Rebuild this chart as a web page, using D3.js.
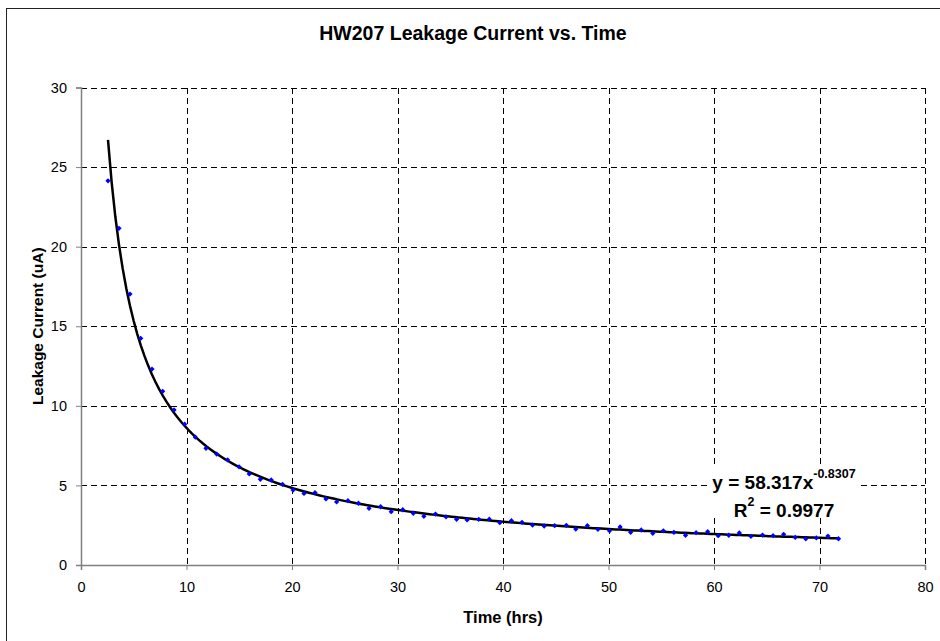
<!DOCTYPE html>
<html>
<head>
<meta charset="utf-8">
<script src="https://cdn.jsdelivr.net/npm/d3@7"></script>
<style>
  html, body { margin: 0; padding: 0; background: #fff; }
  svg { display: block; font-family: "Liberation Sans", Arial, sans-serif; }
</style>
</head>
<body>
<div id="chart"></div>
<script>
// readings
const hours = [
  2.56, 3.60, 4.64, 5.66, 6.73, 7.74, 8.82, 9.83, 10.84, 11.85, 12.86, 13.90,
  14.98, 15.95, 17.0, 18.03, 19.1, 20.1,
  21.14, 22.18, 23.22, 24.23, 25.3, 26.3, 27.3, 28.4, 29.4, 30.5, 31.5, 32.5, 33.6, 34.6, 35.6, 36.6, 37.7, 38.7,
  39.7, 40.8, 41.8, 42.8, 43.9, 44.9, 46.0, 46.9, 48.0, 49.0, 50.1, 51.1, 52.1, 53.1, 54.2, 55.2, 56.2, 57.3, 58.3, 59.4,
  60.4, 61.4, 62.4, 63.5, 64.6, 65.6, 66.6, 67.7, 68.7, 69.7, 70.8, 71.8
];
const current = [
  24.14, 21.15, 17.02, 14.24, 12.31, 10.91, 9.74, 8.85, 8.03, 7.33, 6.97, 6.60,
  6.17, 5.72, 5.38, 5.34, 5.07, 4.71,
  4.50, 4.54, 4.15, 3.96, 4.04, 3.88, 3.56, 3.66, 3.35, 3.47, 3.25, 3.06, 3.20, 3.03, 2.87, 2.83, 2.87, 2.88,
  2.66, 2.78, 2.68, 2.51, 2.45, 2.47, 2.49, 2.26, 2.47, 2.24, 2.15, 2.39, 2.05, 2.20, 1.99, 2.15, 2.05, 1.87, 2.03, 2.09,
  1.84, 1.87, 2.01, 1.80, 1.88, 1.84, 1.93, 1.74, 1.65, 1.70, 1.82, 1.65
];
const xTicks = [0, 10, 20, 30, 40, 50, 60, 70, 80];
const yTicks = [0, 5, 10, 15, 20, 25, 30];

// power trendline shown on the chart
const fitA = 58.317, fitB = -0.8307, fitR2 = 0.9977;

const width = 940, height = 641;
const plot = { left: 81, right: 925, top: 87.5, bottom: 565 };

const svg = d3.select("#chart").append("svg")
  .attr("width", width)
  .attr("height", height);

// outer chart frame
svg.append("rect")
  .attr("x", 6.5).attr("y", 8.5)
  .attr("width", 940).attr("height", 640)
  .attr("fill", "#fff")
  .attr("stroke", "#222")
  .attr("stroke-width", 1);

const x = d3.scaleLinear().domain([0, 80]).range([plot.left, plot.right]);
const y = d3.scaleLinear().domain([0, 30]).range([plot.bottom, plot.top]);

// gridlines
const grid = svg.append("g")
  .attr("stroke", "#000")
  .attr("stroke-width", 1)
  .attr("stroke-dasharray", "6,4")
  .attr("shape-rendering", "crispEdges");

grid.selectAll(".gx")
  .data(xTicks.filter(d => d > 0))
  .enter().append("line")
  .attr("x1", d => Math.round(x(d)) + 0.5).attr("x2", d => Math.round(x(d)) + 0.5)
  .attr("y1", plot.top).attr("y2", plot.bottom);

grid.selectAll(".gy")
  .data(yTicks.filter(d => d > 0))
  .enter().append("line")
  .attr("y1", d => Math.round(y(d)) + 0.5).attr("y2", d => Math.round(y(d)) + 0.5)
  .attr("x1", plot.left).attr("x2", plot.right);

// axes
const xAxis = svg.append("g")
  .attr("transform", `translate(0,${plot.bottom})`)
  .call(d3.axisBottom(x).tickValues(xTicks).tickSize(5).tickPadding(12).tickFormat(d3.format("d")));

const yAxis = svg.append("g")
  .attr("transform", `translate(${plot.left},0)`)
  .call(d3.axisLeft(y).tickValues(yTicks).tickSize(5).tickPadding(9).tickFormat(d3.format("d")));

[xAxis, yAxis].forEach(a => {
  a.select(".domain").attr("stroke", "#808080").attr("stroke-width", 1.5);
  a.selectAll(".tick line").attr("stroke", "#808080");
  a.selectAll(".tick text")
    .attr("fill", "#000")
    .style("font-family", "'Liberation Sans', Arial, sans-serif")
    .style("font-size", "14.5px");
});

// trendline
const fitX = d3.range(0, 201).map(i => hours[0] + (hours[hours.length - 1] - hours[0]) * i / 200);
const line = d3.line()
  .x(d => x(d))
  .y(d => y(fitA * Math.pow(d, fitB)));

svg.append("path")
  .datum(fitX)
  .attr("d", line)
  .attr("fill", "none")
  .attr("stroke", "#000")
  .attr("stroke-width", 2.5);

// markers
const diamond = d3.symbol().type(d3.symbolSquare).size(14);
svg.append("g")
  .selectAll("path")
  .data(hours)
  .enter().append("path")
  .attr("d", diamond)
  .attr("transform", (d, i) => `translate(${x(d)},${y(current[i])}) rotate(45)`)
  .attr("fill", "#0000ff");

// title
svg.append("text")
  .attr("x", 473).attr("y", 40)
  .attr("text-anchor", "middle")
  .style("font-size", "19.5px")
  .style("font-weight", "bold")
  .text("HW207 Leakage Current vs. Time");

// axis titles
svg.append("text")
  .attr("x", (plot.left + plot.right) / 2).attr("y", 623)
  .attr("text-anchor", "middle")
  .style("font-size", "16.5px")
  .style("font-weight", "bold")
  .text("Time (hrs)");

svg.append("text")
  .attr("transform", `translate(43,${(plot.top + plot.bottom) / 2}) rotate(-90)`)
  .attr("text-anchor", "middle")
  .style("font-size", "15.5px")
  .style("font-weight", "bold")
  .text("Leakage Current (uA)");

// equation label, on a white box
const label = svg.append("g");
const labelBg = label.append("rect").attr("fill", "#fff");
const eq = label.append("text")
  .attr("x", 784).attr("y", 489)
  .attr("text-anchor", "middle")
  .style("font-size", "19px")
  .style("font-weight", "bold");
eq.append("tspan").text(`y = ${fitA}x`);
eq.append("tspan").attr("dy", -11).style("font-size", "12.5px").text(fitB);

const r2 = label.append("text")
  .attr("x", 784).attr("y", 517)
  .attr("text-anchor", "middle")
  .style("font-size", "19px")
  .style("font-weight", "bold");
r2.append("tspan").text("R");
r2.append("tspan").attr("dy", -11).style("font-size", "12.5px").text("2");
r2.append("tspan").attr("dy", 11).text(` = ${fitR2}`);

const bb = label.node().getBBox();
labelBg.attr("x", bb.x - 4).attr("y", bb.y)
  .attr("width", bb.width + 8).attr("height", bb.height - 4);
</script>
</body>
</html>
